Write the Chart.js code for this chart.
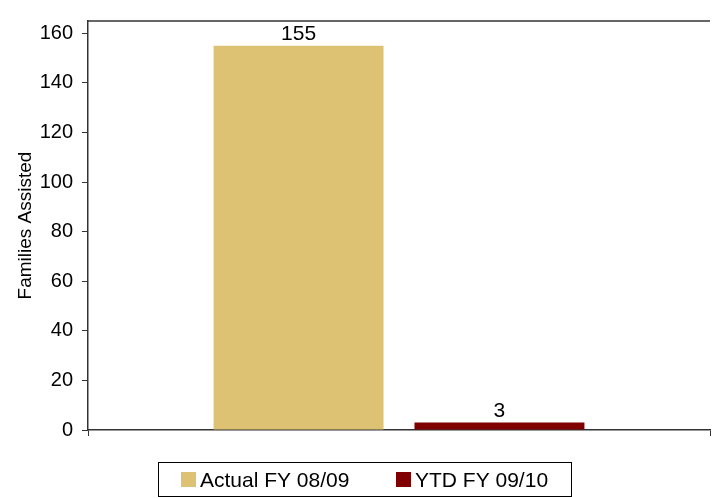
<!DOCTYPE html>
<html>
<head>
<meta charset="utf-8">
<script src="https://cdn.jsdelivr.net/npm/chart.js@4.4.0/dist/chart.umd.min.js"></script>
<style>
  html, body { margin: 0; padding: 0; background: #ffffff; }
  #wrap { width: 715px; height: 498px; position: relative; }
</style>
</head>
<body>
<div id="wrap"><canvas id="myChart"></canvas></div>
<script>
// data
var categories = [''];
var seriesNames = ['Actual FY 08/09', 'YTD FY 09/10'];
var seriesValues = [[155], [3]];
var seriesColors = ['#DEC274', '#800000'];
var yTicks = [0, 20, 40, 60, 80, 100, 120, 140, 160];

var fontFamily = "'Liberation Sans', Arial, sans-serif";

document.addEventListener('DOMContentLoaded', function() {
    var datasets = seriesNames.map(function(name, i) {
        return {
            label: name,
            data: seriesValues[i],
            backgroundColor: seriesColors[i],
            borderWidth: 0,
            barPercentage: 0.846,
            categoryPercentage: 0.646
        };
    });

    // value labels over bars, top frame line and the boxed legend
    var extrasPlugin = {
        id: 'extras',
        afterDatasetsDraw: function(chart) {
            var ctx = chart.ctx;
            var area = chart.chartArea;
            ctx.save();
            ctx.strokeStyle = '#333333';
            ctx.lineWidth = 1.5;
            ctx.beginPath();
            ctx.moveTo(area.left, area.top);
            ctx.lineTo(area.right, area.top);
            ctx.stroke();

            ctx.fillStyle = '#000000';
            ctx.font = '21px ' + fontFamily;
            ctx.textAlign = 'center';
            ctx.textBaseline = 'alphabetic';
            chart.data.datasets.forEach(function(ds, i) {
                var meta = chart.getDatasetMeta(i);
                meta.data.forEach(function(bar, j) {
                    ctx.fillText(String(ds.data[j]), bar.x, bar.y - 6);
                });
            });
            ctx.restore();
        },
        afterDraw: function(chart) {
            var ctx = chart.ctx;
            ctx.save();
            ctx.font = '21px ' + fontFamily;
            var boxLeft = 158, boxTop = 462, boxRight = 571, boxBottom = 497;
            ctx.strokeStyle = '#000000';
            ctx.lineWidth = 1;
            ctx.strokeRect(boxLeft + 0.5, boxTop + 0.5, boxRight - boxLeft, boxBottom - boxTop - 1);
            var itemX = [181, 396];
            ctx.textBaseline = 'alphabetic';
            ctx.textAlign = 'left';
            chart.data.datasets.forEach(function(ds, i) {
                ctx.fillStyle = ds.backgroundColor;
                ctx.fillRect(itemX[i], 472, 15, 15);
                ctx.fillStyle = '#000000';
                ctx.fillText(ds.label, itemX[i] + 19, 487);
            });
            ctx.restore();
        }
    };

    var ctx = document.getElementById('myChart');
    new Chart(ctx, {
        type: 'bar',
        data: {
            labels: categories,
            datasets: datasets
        },
        options: {
            responsive: true,
            maintainAspectRatio: false,
            animation: false,
            layout: { padding: { top: 6, right: 5, bottom: 0, left: 0 } },
            plugins: {
                legend: { display: false },
                tooltip: { enabled: false }
            },
            scales: {
                x: {
                    offset: true,
                    grid: {
                        offset: true,
                        drawOnChartArea: false,
                        drawTicks: true,
                        tickLength: 6,
                        color: '#333333'
                    },
                    border: { color: '#333333', width: 1.5 },
                    ticks: { display: false },
                    afterFit: function(scale) { scale.height = 68; }
                },
                y: {
                    min: 0,
                    max: 165,
                    afterBuildTicks: function(scale) {
                        scale.ticks = yTicks.map(function(v) { return { value: v }; });
                    },
                    grid: {
                        drawOnChartArea: false,
                        drawTicks: true,
                        tickLength: 6,
                        color: '#333333'
                    },
                    border: { color: '#333333', width: 1.5 },
                    ticks: {
                        color: '#000000',
                        padding: 9,
                        font: { size: 20, family: fontFamily }
                    },
                    title: {
                        display: true,
                        text: 'Families Assisted',
                        color: '#000000',
                        font: { size: 19, family: fontFamily },
                        padding: { top: 14, bottom: 0 }
                    },
                    afterFit: function(scale) { scale.width = 88; }
                }
            }
        },
        plugins: [extrasPlugin]
    });
});
</script>
</body>
</html>
